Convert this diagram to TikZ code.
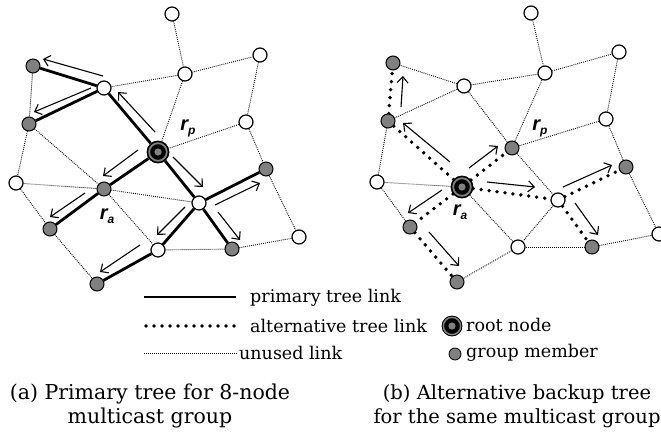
\documentclass[tikz,border=0pt]{standalone}
\usepackage{fontspec}
\setmainfont{DejaVu Serif}
\newfontfamily\lblfont{Liberation Sans}
\usetikzlibrary{arrows.meta,backgrounds}
\definecolor{memgray}{RGB}{128,128,128}
\tikzset{
  wnode/.style={circle,draw=black,line width=1.2pt,fill=white,minimum size=14pt,inner sep=0pt},
  gnode/.style={circle,draw=black,line width=1pt,fill=memgray,minimum size=14pt,inner sep=0pt},
  rootnode/.style={circle,draw=black,line width=0.8pt,fill=black,minimum size=22pt,inner sep=0pt,
    path picture={\fill[memgray] (path picture bounding box.center) circle (3.6pt);
                  \draw[memgray,line width=1.8pt] (path picture bounding box.center) circle (8.8pt);}},
  unused/.style={line width=0.9pt,dash pattern=on 0.9pt off 1.1pt},
  primary/.style={line width=2.8pt},
  alt/.style={line width=3.8pt,line cap=round,dash pattern=on 0pt off 8pt},
  flow/.style={line width=1.1pt,-{Straight Barb[length=6pt,width=11pt]}},
  lbl/.style={font=\lblfont\bfseries\itshape,inner sep=0pt},
  legtxt/.style={font=\fontsize{17.5}{20}\selectfont,anchor=west,inner sep=0pt},
  captxt/.style={font=\fontsize{20.5}{24.5}\selectfont,align=center,inner sep=0pt}
}
\newcommand{\rlab}[1]{{\fontsize{20}{20}\selectfont r}\raisebox{-4pt}{\fontsize{12}{12}\selectfont #1}}
\begin{document}
\begin{tikzpicture}[x=1pt,y=-1pt]
\useasboundingbox (0,0) rectangle (661,432);
% ---------- left graph ----------
\node[wnode] (A) at (172,14) {};
\node[wnode] (B) at (185,74) {};
\node[wnode] (C) at (260,55) {};
\node[wnode] (D) at (104,88) {};
\node[gnode] (E) at (33,66) {};
\node[gnode] (F) at (29,124) {};
\node[wnode] (G) at (246,122) {};
\node[rootnode] (R) at (158,152) {};
\node[wnode] (H) at (16,183) {};
\node[gnode] (I) at (104,189) {};
\node[wnode] (J) at (199,203) {};
\node[gnode] (K) at (266,169) {};
\node[gnode] (L) at (50,229) {};
\node[wnode] (M) at (158,250) {};
\node[gnode] (N) at (232,249) {};
\node[wnode] (O) at (299,237) {};
\node[gnode] (P) at (97,284) {};
\begin{scope}[on background layer]
\foreach \a/\b in {A/B,B/C,B/D,B/R,C/G,G/R,G/K,E/F,F/H,F/I,H/I,H/L,I/J,I/M,L/P,M/N,N/O,K/O}
  \draw[unused] (\a) -- (\b);
\foreach \a/\b in {R/D,D/E,D/F,R/I,I/L,R/J,J/K,J/M,J/N,M/P}
  \draw[primary] (\a) -- (\b);
\end{scope}
\node[lbl] (rpL) at (188,128) {\rlab{p}};
\node[lbl] (raL) at (107,216) {\rlab{a}};
% arrows left
\coordinate (a1s) at (103,76);  \coordinate (a1e) at (43,59);
\coordinate (a2s) at (91,88);   \coordinate (a2e) at (34,112);
\coordinate (a3s) at (155,132); \coordinate (a3e) at (118,92);
\coordinate (a4s) at (138,150); \coordinate (a4e) at (103,176);
\coordinate (a5s) at (85,193);  \coordinate (a5e) at (50,217);
\coordinate (a6s) at (173,157); \coordinate (a6e) at (203,187);
\coordinate (a7s) at (215,205); \coordinate (a7e) at (260,183);
\coordinate (a8s) at (218,212); \coordinate (a8e) at (240,240);
\coordinate (a9s) at (185,207); \coordinate (a9e) at (157,235);
\coordinate (a10s) at (140,245); \coordinate (a10e) at (100,272);
\foreach \i in {1,...,10} \draw[flow] (a\i s) -- (a\i e);
% ---------- right graph ----------
\node[wnode] (A2) at (531,13) {};
\node[wnode] (B2) at (545,73) {};
\node[wnode] (C2) at (619,52) {};
\node[wnode] (D2) at (464,86) {};
\node[gnode] (E2) at (393,63) {};
\node[gnode] (F2) at (388,121) {};
\node[wnode] (G2) at (606,119) {};
\node[gnode] (R2) at (512,148) {};
\node[wnode] (H2) at (377,182) {};
\node[rootnode] (I2) at (462,187) {};
\node[wnode] (J2) at (558,200) {};
\node[gnode] (K2) at (626,167) {};
\node[gnode] (L2) at (410,227) {};
\node[wnode] (M2) at (518,247) {};
\node[gnode] (N2) at (592,247) {};
\node[wnode] (O2) at (659,234) {};
\node[gnode] (P2) at (457,282) {};
\begin{scope}[on background layer]
\foreach \a/\b in {A2/B2,B2/C2,B2/D2,B2/R2,C2/G2,G2/R2,G2/K2,D2/E2,D2/F2,D2/R2,F2/H2,R2/J2,H2/I2,H2/L2,I2/M2,J2/M2,M2/P2,M2/N2,N2/O2,K2/O2}
  \draw[unused] (\a) -- (\b);
\foreach \a/\b in {I2/R2,I2/F2,F2/E2,I2/L2,L2/P2,I2/J2,J2/K2,J2/N2}
  \draw[alt] (\a) -- (\b);
\end{scope}
\node[lbl] (rpR) at (540,128) {\rlab{p}};
\node[lbl] (raR) at (460,212) {\rlab{a}};
\coordinate (b1s) at (401,107); \coordinate (b1e) at (403,76);
\coordinate (b2s) at (450,162); \coordinate (b2e) at (403,123);
\coordinate (b3s) at (469,168); \coordinate (b3e) at (498,146);
\coordinate (b4s) at (487,182); \coordinate (b4e) at (535,187);
\coordinate (b5s) at (563,187); \coordinate (b5e) at (612,165);
\coordinate (b6s) at (575,203); \coordinate (b6e) at (598,235);
\coordinate (b7s) at (442,190); \coordinate (b7e) at (408,213);
\coordinate (b8s) at (429,232); \coordinate (b8e) at (459,266);
\foreach \i in {1,...,8} \draw[flow] (b\i s) -- (b\i e);
% ---------- legend ----------
\coordinate (l1a) at (144,297); \coordinate (l1b) at (236,297);
\coordinate (l2a) at (146,326); \coordinate (l2b) at (236,326);
\coordinate (l3a) at (144,353); \coordinate (l3b) at (237,353);
\draw[primary] (l1a) -- (l1b);
\draw[alt] (l2a) -- (l2b);
\draw[unused] (l3a) -- (l3b);
\node[legtxt] (t1) at (250,298) {primary tree link};
\node[legtxt] (t2) at (250,326) {alternative tree link};
\node[legtxt] (t3) at (239,353) {unused link};
\node[rootnode,minimum size=20pt] (lr) at (452,326) {};
\node[gnode,minimum size=12pt,line width=0.8pt] (lg) at (455,354) {};
\node[legtxt] (t4) at (466,325) {root node};
\node[legtxt] (t5) at (466,353) {group member};
% ---------- captions ----------
\node[captxt] (capa) at (150,406) {(a) Primary tree for 8-node\\multicast group};
\node[captxt,font=\fontsize{19.5}{24.5}\selectfont] (capb) at (517,406) {(b) Alternative backup tree\\for the same multicast group};
\end{tikzpicture}
\end{document}
